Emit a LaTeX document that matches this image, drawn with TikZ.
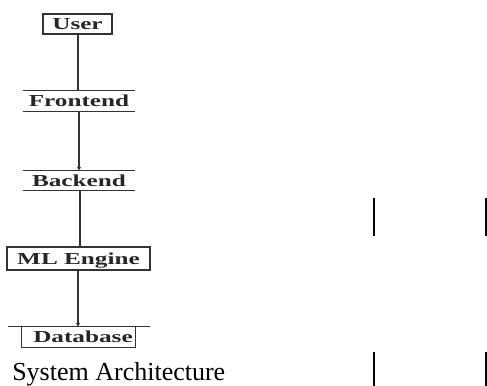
\documentclass[tikz,border=0pt]{standalone}
\usepackage{fontspec}
\usepackage{graphicx}
\setmainfont{Liberation Serif}
\usetikzlibrary{arrows.meta}
\newcommand\wlbl[1]{\scalebox{1.5}[1]{\fontsize{12.6}{14}\selectfont\bfseries #1}}
\begin{document}
\begin{tikzpicture}[x=0.75pt,y=-0.75pt,
  comp/.style={rectangle,inner sep=0pt,text height=8.3pt,text depth=0pt,text=black!85},
  boxed/.style={comp,draw=black!80,line width=1.1pt},
  link/.style={draw=black!80,line width=1.2pt},
  rule/.style={draw=black!80,line width=1pt},
  tip/.style={-{Stealth[length=3pt,width=3pt]}},
  stray/.style={draw=black,line width=1pt}]
\useasboundingbox (0,0) rectangle (487,386);
\node[boxed,minimum width=51.75pt,minimum height=15pt] (user) at (77.5,24) {\wlbl{User}};
\node[comp,minimum width=84pt,minimum height=15pt] (front) at (79,101) {\wlbl{Frontend}};
\node[comp,minimum width=84pt,minimum height=14.25pt] (back) at (79,180.5) {\wlbl{Backend}};
\node[boxed,minimum width=107.25pt,minimum height=17.25pt] (ml) at (78.5,258.5) {\wlbl{ML Engine}};
\node[comp,minimum width=84.75pt,minimum height=15pt] (db) at (78.5,337) {\hspace*{6.75pt}\wlbl{Database}};
% horizontal rules of Frontend / Backend
\draw[rule] (front.north west) -- (front.north east);
\draw[rule] (front.south west) -- (front.south east);
\draw[rule] (back.north west) -- (back.north east);
\draw[rule] (back.south west) -- (back.south east);
% Database: wide top rule and open box
\draw[rule] ([xshift=-10.5pt]db.north west) -- ([xshift=11.25pt]db.north east);
\draw[rule] (db.north west) -- (db.south west) -- (db.south east) -- (db.north east);
% connector columns
\coordinate (c1) at (78,0);
\coordinate (c2) at (79,0);
\coordinate (c3) at (80,0);
\coordinate (c4) at (78,0);
% connectors
\draw[link] (user.south -| c1) -- (front.north -| c1);
\draw[link,tip] (front.south -| c2) -- (back.north -| c2);
\draw[link] (back.south -| c3) -- (ml.north -| c3);
\draw[link,tip] (ml.south -| c4) -- (db.north -| c4);
% caption
\node[anchor=base west,inner sep=0pt] (cap) at (12,380) {\fontsize{19.5}{22}\selectfont System Architecture};
% stray vertical marks on the right
\draw[stray] (374,198) -- (374,236);
\draw[stray] (486,198) -- (486,236);
\draw[stray] (374,352) -- (374,386);
\draw[stray] (486,352) -- (486,386);
\end{tikzpicture}
\end{document}
